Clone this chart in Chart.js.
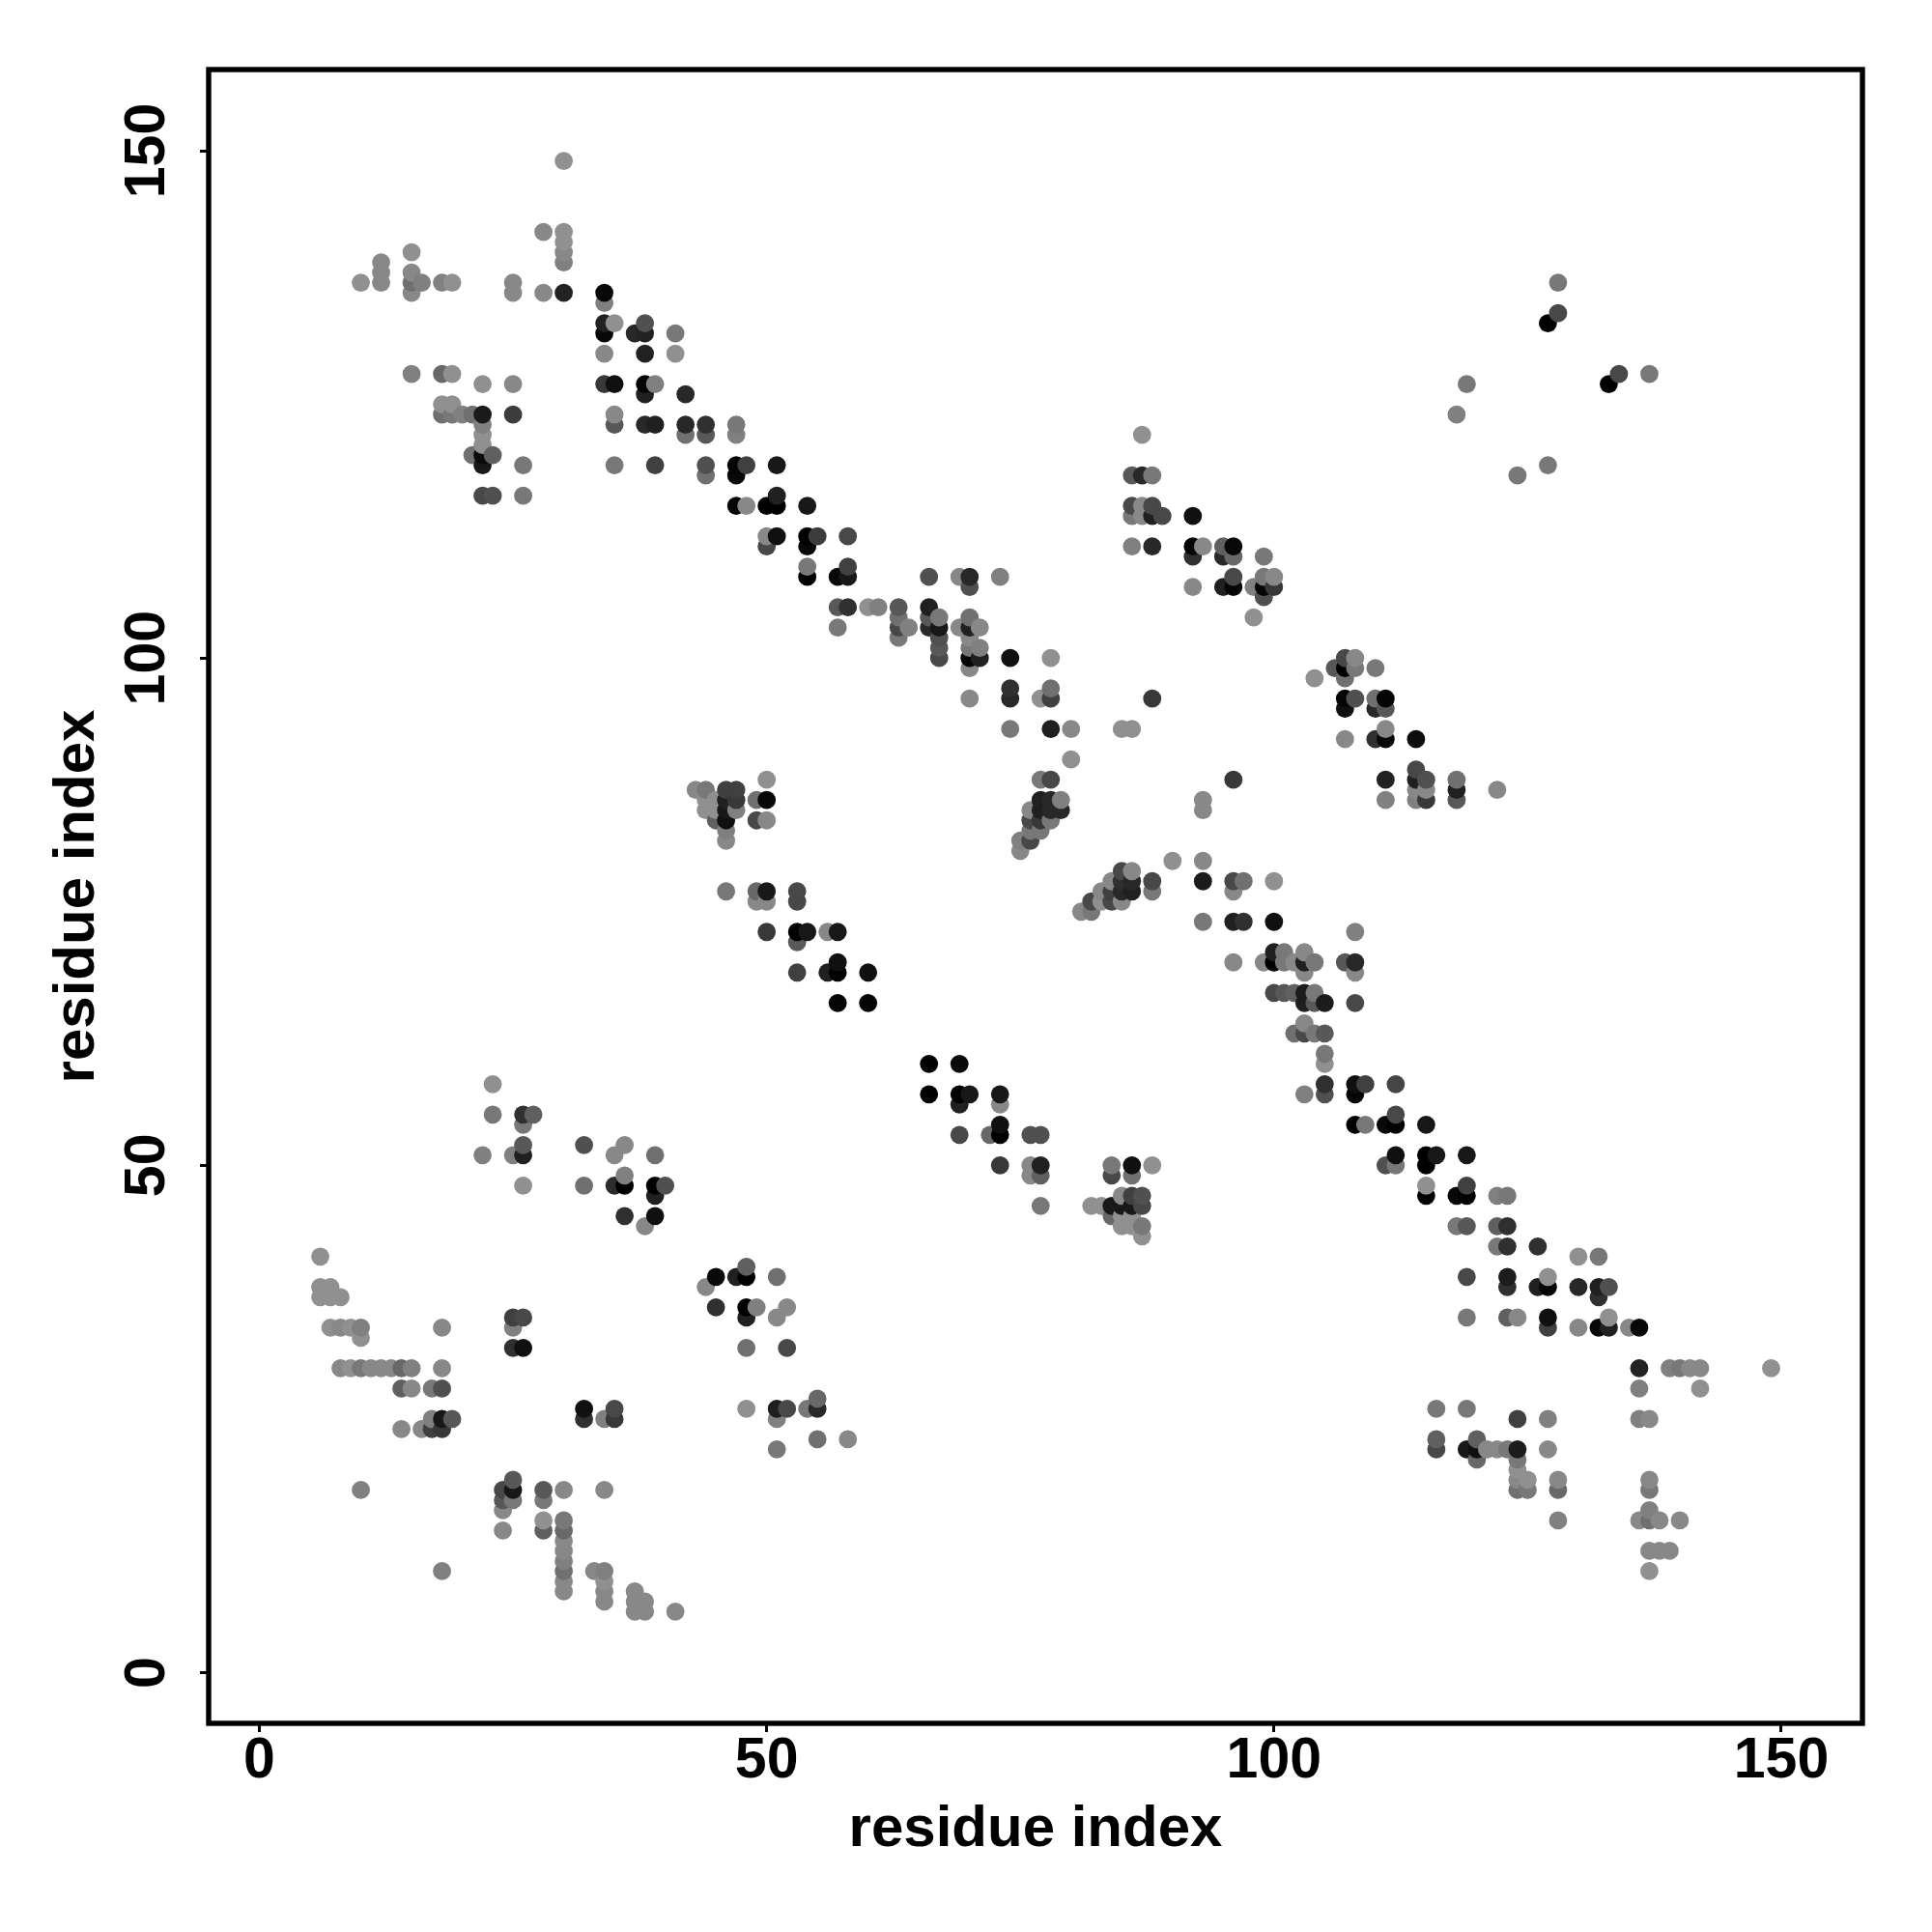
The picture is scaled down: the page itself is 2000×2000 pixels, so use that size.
<!DOCTYPE html>
<html>
<head>
<meta charset="utf-8">
<style>html,body{margin:0;padding:0;background:#fff}canvas{display:block}</style>
<script src="https://cdn.jsdelivr.net/npm/chart.js@4/dist/chart.umd.min.js"></script>
</head>
<body>
<canvas id="c" width="2000" height="2000"></canvas>
<script>
const axisTicks = [0, 50, 100, 150];
const axisTitle = "residue index";

// upper-left band
const xA = [30,28,30,30,30,30,30,28,25,25,10,12,12,12,15,15,15,15,16,18,19,34,34,34,35,34,37,38,38,41,34,38,41,15,18,19,22,25,34,35,38,39,38,42,18,19,18,19,20,21,22,25,22,22,22,21,22,23,22,26,22,23,26,35,35,38,39,42,44,42,44,47,47,35,39,44,44,47,48,47,51,47,48,50,51,51,54,50,51,50,54,55,54,58,54,54,58,57,58];
const yA = [149,142,142,141,140,139,136,136,137,136,137,139,138,137,140,138,137,136,137,137,137,136,135,133,133,132,132,133,132,132,130,130,130,128,128,128,127,127,127,127,127,127,126,126,125,125,124,124,124,124,124,124,123,122,121,120,120,120,119,119,116,116,116,124,123,123,123,123,123,122,122,123,122,119,119,119,118,119,119,118,119,115,115,115,116,115,115,112,112,111,112,112,111,112,109,108,109,108,108];
const gA = [0x90,0x88,0x90,0x90,0x88,0x80,0x22,0x88,0x88,0x88,0x90,0x88,0x88,0x88,0x90,0x88,0x70,0x88,0x80,0x80,0x90,0x08,0x80,0x22,0x90,0x08,0x28,0x50,0x22,0x78,0x88,0x22,0x90,0x80,0x68,0x90,0x90,0x88,0x38,0x10,0x05,0x80,0x20,0x28,0x90,0x90,0x70,0x78,0x80,0x70,0x1a,0x3c,0x80,0x90,0x90,0x70,0x0a,0x60,0x18,0x78,0x48,0x50,0x78,0x88,0x58,0x28,0x20,0x28,0x30,0x70,0x58,0x78,0x80,0x78,0x40,0x50,0x70,0x05,0x40,0x08,0x18,0x05,0x88,0x00,0x20,0x00,0x18,0x88,0x10,0x48,0x02,0x3c,0x08,0x48,0x78,0x00,0x40,0x08,0x18];

// middle of the band, residues 60-92, and the isolated groups above it
const xB = [66,69,70,70,73,57,58,60,61,63,66,57,63,63,64,63,66,67,66,67,67,67,67,69,70,70,71,70,70,71,70,71,70,74,78,74,74,70,78,78,77,88,74,78,80,85,86,80,77,78,87,86,87,88,86,87,88,86,87,88,89,86,88,92,92,93,92,95,96,95,96,92,95,96,96];
const yB = [108,108,108,107,108,105,105,105,105,105,105,103,104,103,103,102,104,104,103,103,102,101,100,103,104,103,103,102,101,101,100,100,99,100,100,97,96,96,97,96,96,96,93,93,93,93,93,90,88,88,122,118,118,118,115,115,115,114,114,114,114,111,111,114,111,111,110,111,111,110,110,107,107,107,108];
const gB = [0x50,0x88,0x28,0x50,0x80,0x58,0x30,0x90,0x80,0x58,0x20,0x78,0x70,0x48,0x80,0x78,0x58,0x78,0x28,0x18,0x50,0x58,0x48,0x88,0x70,0x20,0x88,0x88,0x78,0x80,0x05,0x20,0x88,0x10,0x90,0x30,0x28,0x88,0x70,0x40,0x90,0x38,0x78,0x20,0x88,0x90,0x90,0x90,0x78,0x48,0x90,0x58,0x28,0x78,0x48,0x88,0x48,0x78,0x88,0x20,0x48,0x80,0x28,0x10,0x05,0x88,0x30,0x60,0x08,0x28,0x68,0x88,0x20,0x05,0x48];

// far upper-right groups
const xC = [128,128,127,134,133,137,119,118,124,127,99,98,99,100,99,100,99,98,104,107,108,106,107,108,110,107];
const yC = [137,134,133,128,127,128,127,124,118,119,110,107,108,108,107,107,106,104,98,100,100,99,99,99,99,98];
const gC = [0x78,0x48,0x00,0x48,0x00,0x78,0x78,0x80,0x78,0x78,0x78,0x80,0x78,0x88,0x05,0x38,0x50,0x90,0x90,0x48,0x88,0x58,0x00,0x78,0x78,0x70];

// centre groups, residues 43-60 against 66-88
const xD = [50,43,44,46,47,44,45,46,47,49,50,44,45,46,47,45,46,49,50,46,46,46,49,50,49,50,53,53,50,53,54,56,57,53,53,56,57,57,60,57,60];
const yD = [88,87,87,87,87,86,86,86,86,86,86,85,85,85,85,84,84,84,84,83,82,77,77,77,76,76,77,76,73,73,73,73,73,72,69,69,70,69,69,66,66];
const gD = [0x90,0x88,0x78,0x40,0x40,0x90,0x90,0x20,0x38,0x70,0x08,0x90,0x90,0x18,0x80,0x60,0x10,0x48,0x88,0x80,0x88,0x78,0x68,0x18,0x88,0x88,0x48,0x48,0x38,0x00,0x18,0x88,0x18,0x58,0x40,0x20,0x10,0x00,0x10,0x05,0x05];

// groups mirrored across the two residue axes, 66-77 and 82-88
const xE = [66,69,66,69,70,73,69,73,69,72,73,73,76,77,73,76,77,76,77,77,84,86,88,84,86,85,86,87,82,83,84,85,86,87,84,85,86,85,86,87,87];
const yE = [60,60,57,57,57,57,56,56,53,53,54,53,53,53,50,50,50,49,49,46,50,50,50,49,49,47,47,47,46,46,46,46,46,46,45,45,45,44,44,44,43];
const gE = [0x02,0x0a,0x02,0x00,0x18,0x18,0x20,0x88,0x48,0x68,0x10,0x00,0x50,0x50,0x38,0x88,0x20,0x88,0x60,0x78,0x78,0x10,0x90,0x48,0x70,0x88,0x40,0x50,0x90,0x90,0x18,0x18,0x18,0x48,0x68,0x90,0x90,0x90,0x90,0x78,0x90];

// tight cluster at residues 75-88
const xF = [77,78,79,76,77,78,79,76,77,78,76,77,76,75,75,86,85,84,85,86,88,83,84,85,86,88,82,83,84,85,81,82];
const yF = [86,86,86,85,85,85,85,84,84,84,83,83,82,82,81,79,79,78,78,78,78,77,77,77,77,77,76,76,76,76,75,75];
const gF = [0x20,0x28,0x80,0x88,0x20,0x28,0x28,0x48,0x38,0x78,0x78,0x78,0x48,0x80,0x88,0x88,0x48,0x88,0x30,0x28,0x48,0x88,0x40,0x28,0x20,0x78,0x48,0x90,0x48,0x88,0x88,0x78];

// lower band, residues 90-122
const xG = [90,93,93,96,97,100,96,93,96,97,100,108,96,99,100,100,101,101,102,103,103,104,103,107,108,108,100,101,102,103,104,103,104,105,108,103,102,103,104,105,105,105,96,93,93,111,111,114,114,115,114,115,114,115,118,118,118,122,107,108,107,110,111,110,111,107,110,111,111,114,105,108,109,112,103,105,108,112,108,109,111,112,115,112,115,116,119,111,112,115,115,115,118,119,119,122,123];
const yG = [80,80,78,78,78,78,77,74,74,74,74,73,70,70,71,70,71,70,70,71,70,70,69,70,70,69,67,67,67,67,67,66,66,66,66,64,63,63,63,63,61,60,88,86,85,88,86,89,88,88,87,87,86,86,88,87,86,87,96,96,95,96,96,95,95,92,92,93,92,92,58,58,58,58,57,57,57,55,54,54,54,54,54,51,51,51,51,50,50,50,48,47,47,48,47,47,47];
const gG = [0x90,0x88,0x1c,0x48,0x70,0x90,0x88,0x78,0x20,0x30,0x10,0x80,0x88,0x88,0x20,0x00,0x78,0x78,0x88,0x88,0x20,0x78,0x88,0x58,0x28,0x88,0x48,0x58,0x60,0x1c,0x78,0x20,0x58,0x1c,0x48,0x88,0x70,0x48,0x78,0x58,0x78,0x90,0x38,0x88,0x88,0x22,0x80,0x48,0x20,0x50,0x88,0x88,0x80,0x38,0x70,0x20,0x58,0x88,0x05,0x50,0x10,0x70,0x05,0x28,0x58,0x88,0x30,0x88,0x08,0x0c,0x30,0x10,0x40,0x45,0x80,0x50,0x05,0x48,0x00,0x78,0x08,0x00,0x18,0x10,0x00,0x18,0x18,0x50,0x78,0x00,0x90,0x00,0x08,0x40,0x00,0x80,0x78];

// band tail and lower-right groups
const xH = [118,119,122,123,122,123,126,130,132,119,123,123,127,126,127,130,132,133,132,119,123,124,127,127,130,132,133,133,135,136,136,139,140,141,142,149,136,142,116,119,124,127,136,137,116,116,119,120,120,120,121,122,123,124,127,124,124,124,125,124,125,128,128,137,137,128,136,137,137,138,140,137,138,139,137];
const yH = [44,44,44,44,42,42,42,41,41,39,39,38,39,38,38,38,38,38,37,35,35,35,35,34,34,34,35,34,34,34,30,30,30,30,30,30,28,28,26,26,25,25,25,25,23,22,22,23,22,21,22,22,22,22,22,21,20,19,19,18,18,19,18,19,18,15,15,16,15,15,15,12,12,12,10];
const gH = [0x78,0x58,0x60,0x30,0x78,0x30,0x30,0x90,0x78,0x48,0x1c,0x30,0x90,0x20,0x05,0x28,0x20,0x50,0x30,0x78,0x60,0x88,0x10,0x40,0x88,0x08,0x90,0x22,0x88,0x08,0x22,0x80,0x78,0x88,0x88,0x90,0x80,0x90,0x78,0x78,0x40,0x80,0x80,0x88,0x60,0x48,0x18,0x60,0x10,0x68,0x88,0x88,0x78,0x1c,0x88,0x78,0x90,0x88,0x90,0x70,0x78,0x88,0x68,0x88,0x78,0x80,0x88,0x80,0x70,0x88,0x88,0x88,0x88,0x88,0x90];

// lower-left groups, residues 22-58
const xI = [23,23,26,27,26,26,26,25,22,32,36,35,39,26,32,35,36,36,39,40,39,36,39,38,45,47,48,48,51,44,45,48,49,52,48,51,48,52,25,26,25,25,26,32,32,35,35,34,48,51,52,54,55,55,51,55,58,51];
const yI = [58,55,55,55,54,52,51,51,51,52,52,51,51,48,48,48,49,48,48,48,47,45,45,44,39,39,40,39,39,38,36,36,36,36,35,35,32,32,35,35,34,32,32,26,25,26,25,25,26,26,26,26,27,26,25,23,23,22];
const gI = [0x90,0x78,0x30,0x60,0x78,0x58,0x20,0x80,0x80,0x50,0x88,0x88,0x70,0x90,0x70,0x2c,0x80,0x00,0x00,0x50,0x20,0x30,0x10,0x88,0x08,0x20,0x60,0x00,0x70,0x88,0x30,0x00,0x80,0x88,0x20,0x88,0x70,0x48,0x40,0x48,0x80,0x30,0x10,0x10,0x30,0x48,0x38,0x80,0x90,0x1e,0x48,0x78,0x68,0x28,0x80,0x70,0x88,0x78];

// lower-left corner, residues 6-41
const xJ = [6,6,7,6,7,8,7,8,9,10,10,18,8,9,10,11,12,13,14,15,18,14,15,17,18,17,18,19,14,16,17,18,10,18,25,24,25,24,25,24,24,28,30,34,28,28,28,30,30,30,30,30,30,30,30,33,34,34,34,34,37,37,38,37,38,41];
const yJ = [41,38,38,37,37,37,34,34,34,34,33,34,30,30,30,30,30,30,30,30,30,28,28,28,28,25,25,25,24,24,24,24,18,10,19,18,18,17,17,16,14,18,18,18,17,15,14,15,14,13,12,11,10,9,8,10,10,9,8,7,8,7,7,6,6,6];
const gJ = [0x90,0x90,0x90,0x90,0x90,0x90,0x90,0x88,0x90,0x80,0x90,0x88,0x88,0x90,0x78,0x88,0x88,0x88,0x68,0x80,0x88,0x60,0x88,0x78,0x50,0x80,0x18,0x58,0x88,0x88,0x40,0x38,0x80,0x80,0x58,0x48,0x18,0x58,0x78,0x88,0x88,0x58,0x88,0x88,0x78,0x90,0x60,0x78,0x68,0x88,0x88,0x80,0x70,0x88,0x88,0x88,0x80,0x90,0x88,0x88,0x88,0x88,0x88,0x88,0x88,0x88];

const xGroups = [xA,xB,xC,xD,xE,xF,xG,xH,xI,xJ];
const yGroups = [yA,yB,yC,yD,yE,yF,yG,yH,yI,yJ];
const gGroups = [gA,gB,gC,gD,gE,gF,gG,gH,gI,gJ];

const rows = [];
xGroups.forEach((xs, k) => xs.forEach((x, i) => rows.push({x, y: yGroups[k][i], g: gGroups[k][i]})));
rows.sort((a, b) => a.x - b.x || a.y - b.y);

const fontFamily = '"Liberation Sans", Arial, sans-serif';
const frame = {
  id: 'frame',
  afterDraw(chart) {
    const {ctx, chartArea: a} = chart;
    ctx.save();
    ctx.strokeStyle = '#000';
    ctx.lineWidth = 5.4;
    ctx.lineJoin = 'miter';
    ctx.strokeRect(a.left, a.top, a.right - a.left, a.bottom - a.top);
    ctx.restore();
  }
};

new Chart(document.getElementById('c'), {
  type: 'scatter',
  data: {datasets: [{
    data: rows.map(r => ({x: r.x, y: r.y})),
    pointRadius: 9.4,
    pointHoverRadius: 9.4,
    pointBorderWidth: 0,
    pointBackgroundColor: rows.map(r => `rgb(${r.g},${r.g},${r.g})`)
  }]},
  plugins: [frame],
  options: {
    responsive: false,
    animation: false,
    devicePixelRatio: 1,
    layout: {padding: {left: 0, right: 72, top: 72, bottom: 0}},
    plugins: {legend: {display: false}, tooltip: {enabled: false}},
    scales: {
      x: {
        type: 'linear', min: -5, max: 158,
        afterBuildTicks: s => { s.ticks = axisTicks.map(v => ({value: v})); },
        afterFit: s => { s.height = 216; },
        border: {display: false},
        grid: {drawOnChartArea: false, drawTicks: true, tickLength: 9, tickWidth: 3, tickColor: '#000'},
        ticks: {color: '#000', font: {family: fontFamily, weight: 'bold', size: 59}, padding: -5, maxRotation: 0, minRotation: 0, autoSkip: false, callback: v => String(v)},
        title: {display: true, text: axisTitle, color: '#000', font: {family: fontFamily, weight: 'bold', size: 60}, padding: {top: 12, bottom: 70}}
      },
      y: {
        type: 'linear', min: -5, max: 158,
        afterBuildTicks: s => { s.ticks = axisTicks.map(v => ({value: v})); },
        afterFit: s => { s.width = 216; },
        border: {display: false},
        grid: {drawOnChartArea: false, drawTicks: true, tickLength: 9, tickWidth: 3, tickColor: '#000'},
        ticks: {color: '#000', font: {family: fontFamily, weight: 'bold', size: 59}, padding: 4, minRotation: 90, maxRotation: 90, autoSkip: false, crossAlign: 'center', callback: v => String(v)},
        title: {display: true, text: axisTitle, color: '#000', font: {family: fontFamily, weight: 'bold', size: 60}, padding: {top: 44, bottom: 0}}
      }
    }
  }
});
</script>
</body>
</html>
